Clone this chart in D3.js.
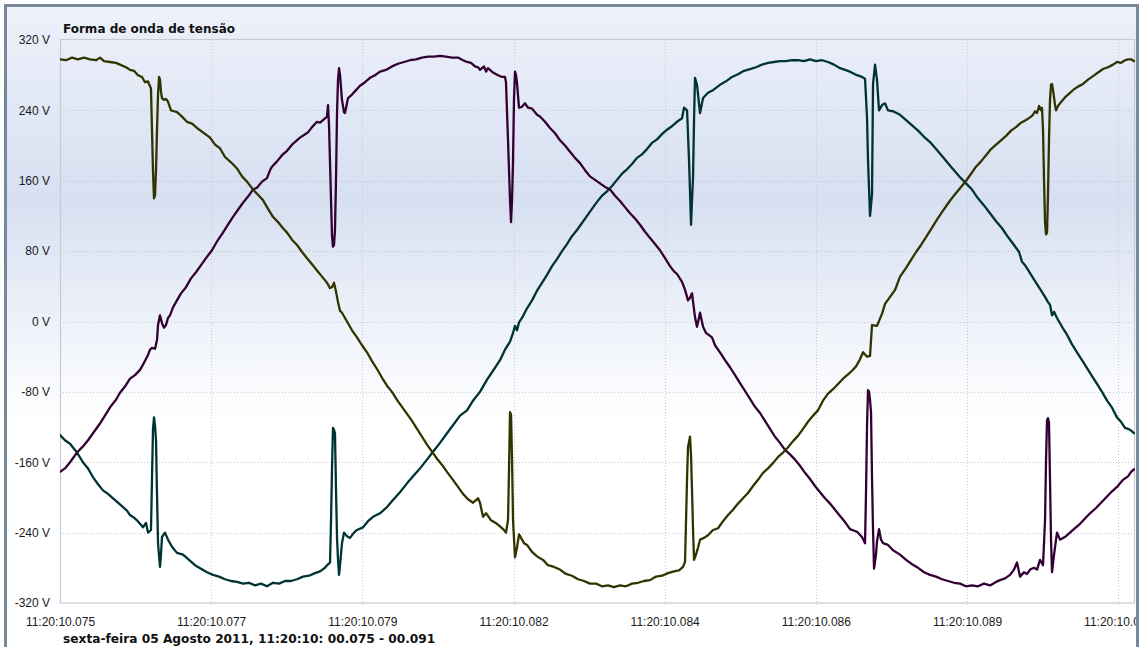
<!DOCTYPE html>
<html><head><meta charset="utf-8">
<script src="https://cdn.jsdelivr.net/npm/d3@7"></script>
<style>
html,body{margin:0;padding:0;background:#fff;}
svg{display:block;}
</style></head>
<body>
<svg id="chart" width="1140" height="647"></svg>
<script>
const chartTitle = "Forma de onda de tensão";
const chartSubtitle = "sexta-feira 05 Agosto 2011, 11:20:10: 00.075 - 00.091";
const timeDomain = [75, 91]; // ms
const voltDomain = [-320, 320];
const yTickValues = [-320, -240, -160, -80, 0, 80, 160, 240, 320];
const xTickValues = [75, 77.25, 79.5, 81.75, 84, 86.25, 88.5, 90.75];
const xTickLabels = ["11:20:10.075","11:20:10.077","11:20:10.079","11:20:10.082","11:20:10.084","11:20:10.086","11:20:10.089","11:20:10.091"];
const seriesColors = ["#003333", "#330033", "#333300"];

// [time ms, volts]
const phaseL1 = [[75.000,298],[75.089,297],[75.179,300],[75.268,298],[75.357,300],[75.447,298],[75.536,297],[75.595,300],[75.655,296],[75.744,295],[75.833,294],[75.893,292],[75.982,289],[76.042,286],[76.101,285],[76.161,280],[76.220,278],[76.265,272],[76.310,273],[76.325,270],[76.354,265],[76.369,218],[76.384,172],[76.399,140],[76.414,143],[76.429,172],[76.444,218],[76.459,258],[76.474,278],[76.488,275],[76.503,261],[76.518,254],[76.548,252],[76.578,253],[76.607,250],[76.652,240],[76.697,239],[76.741,238],[76.801,234],[76.890,227],[76.965,225],[77.039,220],[77.128,215],[77.233,209],[77.307,201],[77.381,197],[77.456,187],[77.545,181],[77.634,174],[77.709,165],[77.783,159],[77.873,150],[77.947,144],[78.021,138],[78.096,128],[78.170,119],[78.245,113],[78.319,106],[78.379,101],[78.453,93],[78.528,87],[78.602,79],[78.677,72],[78.751,65],[78.825,58],[78.900,51],[78.974,44],[79.019,38],[79.048,39],[79.078,44],[79.108,34],[79.138,22],[79.168,12],[79.197,10],[79.242,4],[79.287,-2],[79.346,-10],[79.421,-18],[79.495,-27],[79.569,-35],[79.644,-45],[79.718,-54],[79.793,-64],[79.867,-73],[79.941,-80],[80.016,-89],[80.090,-97],[80.165,-105],[80.239,-113],[80.314,-122],[80.388,-131],[80.462,-140],[80.537,-148],[80.611,-156],[80.686,-163],[80.760,-171],[80.849,-180],[80.924,-188],[80.998,-196],[81.073,-202],[81.147,-206],[81.192,-203],[81.222,-201],[81.251,-206],[81.296,-222],[81.341,-218],[81.370,-221],[81.415,-226],[81.460,-228],[81.504,-230],[81.549,-233],[81.594,-236],[81.638,-240],[81.668,-226],[81.683,-169],[81.698,-103],[81.713,-106],[81.728,-157],[81.743,-226],[81.772,-268],[81.802,-257],[81.832,-242],[81.862,-246],[81.906,-252],[81.951,-254],[82.026,-262],[82.100,-267],[82.189,-271],[82.263,-277],[82.353,-279],[82.442,-282],[82.531,-287],[82.620,-289],[82.710,-293],[82.799,-295],[82.888,-298],[82.978,-298],[83.067,-301],[83.156,-300],[83.245,-302],[83.335,-300],[83.424,-301],[83.514,-298],[83.603,-297],[83.692,-295],[83.782,-294],[83.871,-290],[83.960,-289],[84.049,-286],[84.139,-284],[84.213,-283],[84.273,-279],[84.303,-273],[84.318,-226],[84.333,-178],[84.347,-143],[84.377,-131],[84.392,-152],[84.407,-192],[84.422,-237],[84.437,-271],[84.466,-265],[84.496,-257],[84.526,-248],[84.586,-246],[84.645,-243],[84.719,-237],[84.794,-235],[84.868,-227],[84.943,-220],[85.017,-214],[85.091,-207],[85.166,-201],[85.240,-195],[85.315,-187],[85.389,-180],[85.463,-172],[85.538,-167],[85.612,-161],[85.687,-154],[85.761,-149],[85.836,-143],[85.910,-136],[85.984,-130],[86.059,-122],[86.133,-114],[86.208,-107],[86.282,-101],[86.356,-90],[86.431,-82],[86.505,-77],[86.580,-71],[86.654,-65],[86.729,-60],[86.788,-56],[86.848,-51],[86.907,-43],[86.952,-35],[87.012,-40],[87.056,-39],[87.086,-4],[87.160,-5],[87.235,9],[87.280,20],[87.354,28],[87.429,36],[87.503,51],[87.593,61],[87.667,70],[87.741,79],[87.816,87],[87.890,96],[87.965,105],[88.039,114],[88.114,123],[88.188,131],[88.262,139],[88.337,146],[88.411,153],[88.486,160],[88.560,168],[88.634,176],[88.709,182],[88.783,189],[88.858,196],[88.932,201],[89.006,206],[89.081,211],[89.155,217],[89.229,221],[89.304,226],[89.378,229],[89.438,232],[89.482,235],[89.512,239],[89.542,237],[89.572,245],[89.601,240],[89.616,243],[89.631,218],[89.646,161],[89.661,113],[89.676,99],[89.691,101],[89.705,144],[89.720,206],[89.735,252],[89.750,269],[89.765,270],[89.780,263],[89.810,246],[89.825,240],[89.854,245],[89.884,248],[89.929,252],[89.973,256],[90.033,260],[90.092,264],[90.152,267],[90.226,270],[90.301,275],[90.375,279],[90.450,283],[90.524,287],[90.598,289],[90.673,292],[90.732,295],[90.792,294],[90.851,297],[90.896,298],[90.941,298],[90.985,296]];

const phaseL2 = [[75.000,-171],[75.074,-167],[75.149,-160],[75.253,-149],[75.342,-142],[75.417,-135],[75.491,-127],[75.595,-116],[75.685,-105],[75.759,-96],[75.833,-89],[75.893,-81],[75.967,-74],[76.042,-65],[76.116,-61],[76.191,-55],[76.250,-47],[76.310,-38],[76.340,-32],[76.369,-30],[76.414,-31],[76.444,-21],[76.459,-4],[76.488,7],[76.518,-2],[76.548,-7],[76.578,-4],[76.607,4],[76.637,7],[76.682,16],[76.741,24],[76.801,32],[76.875,39],[76.950,49],[77.024,56],[77.099,64],[77.173,72],[77.262,81],[77.337,91],[77.426,101],[77.500,110],[77.575,119],[77.649,127],[77.724,135],[77.798,142],[77.873,150],[77.932,152],[78.007,159],[78.081,163],[78.126,172],[78.155,176],[78.230,182],[78.304,189],[78.379,194],[78.453,201],[78.513,205],[78.572,209],[78.632,212],[78.691,215],[78.751,221],[78.825,227],[78.870,226],[78.914,229],[78.944,231],[78.974,233],[78.989,246],[79.004,223],[79.019,180],[79.034,138],[79.048,98],[79.063,85],[79.078,87],[79.093,104],[79.108,161],[79.123,237],[79.138,275],[79.153,288],[79.168,280],[79.197,252],[79.227,238],[79.242,237],[79.287,254],[79.346,258],[79.406,263],[79.465,268],[79.540,272],[79.614,277],[79.688,280],[79.763,284],[79.852,286],[79.941,290],[80.031,293],[80.120,295],[80.209,297],[80.299,298],[80.388,300],[80.477,301],[80.567,301],[80.656,302],[80.745,301],[80.835,300],[80.924,300],[80.998,297],[81.058,295],[81.117,294],[81.177,290],[81.222,289],[81.251,286],[81.281,288],[81.311,290],[81.341,284],[81.370,288],[81.400,286],[81.445,283],[81.519,280],[81.579,278],[81.623,278],[81.638,272],[81.668,206],[81.698,138],[81.713,113],[81.728,138],[81.743,184],[81.757,252],[81.772,284],[81.787,280],[81.802,271],[81.832,243],[81.876,244],[81.921,248],[81.966,243],[82.026,242],[82.100,235],[82.144,233],[82.219,227],[82.293,220],[82.368,214],[82.442,206],[82.516,200],[82.591,193],[82.665,186],[82.740,180],[82.814,172],[82.888,165],[82.963,161],[83.037,157],[83.112,153],[83.186,150],[83.261,143],[83.335,137],[83.409,130],[83.484,123],[83.558,117],[83.633,110],[83.707,102],[83.782,95],[83.856,88],[83.930,81],[84.005,72],[84.079,63],[84.139,57],[84.184,54],[84.258,45],[84.303,36],[84.347,24],[84.377,27],[84.407,32],[84.451,5],[84.481,-6],[84.526,10],[84.571,-6],[84.615,-13],[84.704,-18],[84.749,-27],[84.823,-35],[84.898,-44],[84.972,-52],[85.047,-61],[85.121,-70],[85.196,-79],[85.270,-88],[85.344,-97],[85.419,-104],[85.493,-113],[85.568,-122],[85.642,-131],[85.716,-138],[85.791,-146],[85.865,-151],[85.940,-157],[86.014,-164],[86.089,-172],[86.163,-179],[86.237,-187],[86.312,-194],[86.386,-201],[86.461,-207],[86.535,-214],[86.610,-221],[86.684,-228],[86.758,-236],[86.862,-239],[86.937,-245],[86.982,-252],[86.997,-192],[87.012,-118],[87.026,-78],[87.041,-80],[87.056,-89],[87.071,-103],[87.086,-179],[87.101,-237],[87.116,-281],[87.145,-265],[87.160,-250],[87.190,-236],[87.220,-248],[87.250,-252],[87.324,-254],[87.399,-260],[87.503,-265],[87.593,-271],[87.682,-276],[87.771,-280],[87.860,-285],[87.949,-288],[88.039,-290],[88.128,-293],[88.217,-295],[88.306,-297],[88.396,-298],[88.485,-301],[88.574,-300],[88.663,-301],[88.753,-298],[88.842,-300],[88.932,-296],[88.991,-294],[89.066,-292],[89.140,-288],[89.199,-282],[89.244,-274],[89.289,-290],[89.348,-285],[89.393,-287],[89.438,-282],[89.497,-280],[89.542,-282],[89.586,-271],[89.631,-277],[89.661,-226],[89.676,-157],[89.691,-112],[89.705,-110],[89.720,-115],[89.735,-180],[89.750,-248],[89.765,-285],[89.795,-265],[89.839,-240],[89.884,-248],[89.973,-244],[90.078,-237],[90.182,-230],[90.256,-224],[90.331,-218],[90.420,-212],[90.494,-206],[90.584,-199],[90.658,-193],[90.732,-188],[90.822,-180],[90.896,-176],[90.941,-171],[90.985,-168]];

const phaseL3 = [[75.000,-129],[75.074,-135],[75.149,-139],[75.253,-149],[75.342,-160],[75.417,-167],[75.491,-177],[75.566,-185],[75.640,-192],[75.714,-196],[75.789,-201],[75.863,-206],[75.938,-211],[75.997,-215],[76.042,-220],[76.101,-223],[76.146,-226],[76.191,-230],[76.235,-234],[76.280,-229],[76.310,-240],[76.354,-237],[76.369,-180],[76.384,-123],[76.399,-109],[76.414,-118],[76.429,-135],[76.444,-197],[76.459,-252],[76.488,-279],[76.503,-265],[76.518,-245],[76.563,-240],[76.607,-248],[76.667,-256],[76.741,-263],[76.831,-265],[76.920,-271],[77.009,-277],[77.099,-281],[77.188,-285],[77.277,-288],[77.367,-290],[77.456,-293],[77.545,-295],[77.634,-296],[77.724,-298],[77.813,-297],[77.902,-300],[77.992,-298],[78.081,-301],[78.170,-297],[78.260,-298],[78.349,-295],[78.438,-295],[78.528,-293],[78.617,-290],[78.706,-289],[78.795,-286],[78.870,-284],[78.944,-280],[78.989,-276],[79.019,-274],[79.034,-226],[79.048,-169],[79.063,-121],[79.078,-123],[79.093,-127],[79.108,-192],[79.123,-245],[79.138,-271],[79.153,-288],[79.168,-277],[79.197,-252],[79.227,-240],[79.272,-244],[79.316,-246],[79.376,-240],[79.421,-237],[79.510,-234],[79.584,-227],[79.659,-222],[79.763,-218],[79.867,-211],[79.956,-203],[80.060,-194],[80.165,-184],[80.254,-176],[80.358,-167],[80.462,-157],[80.552,-148],[80.656,-138],[80.760,-127],[80.849,-118],[80.954,-107],[81.058,-101],[81.147,-90],[81.251,-80],[81.356,-66],[81.445,-56],[81.549,-44],[81.623,-32],[81.698,-23],[81.743,-13],[81.772,-5],[81.802,-10],[81.832,-1],[81.876,4],[81.951,15],[82.026,24],[82.100,35],[82.174,44],[82.249,53],[82.323,63],[82.397,71],[82.472,80],[82.546,88],[82.620,97],[82.695,104],[82.769,112],[82.844,120],[82.918,128],[82.993,136],[83.067,143],[83.142,148],[83.216,154],[83.290,161],[83.365,168],[83.439,173],[83.514,179],[83.588,186],[83.662,190],[83.737,196],[83.811,203],[83.886,207],[83.960,213],[84.034,218],[84.109,222],[84.183,227],[84.258,231],[84.288,243],[84.333,240],[84.362,184],[84.392,110],[84.407,138],[84.422,164],[84.437,229],[84.451,277],[84.481,269],[84.526,237],[84.571,254],[84.645,260],[84.719,263],[84.823,269],[84.913,273],[85.002,278],[85.091,281],[85.181,285],[85.270,287],[85.359,289],[85.449,292],[85.538,294],[85.627,295],[85.716,296],[85.806,296],[85.895,297],[85.984,297],[86.074,296],[86.163,298],[86.252,296],[86.342,297],[86.431,295],[86.520,292],[86.610,288],[86.684,286],[86.758,284],[86.862,280],[86.937,278],[86.982,276],[87.012,231],[87.026,184],[87.056,120],[87.071,132],[87.086,145],[87.101,270],[87.131,292],[87.160,275],[87.190,240],[87.235,246],[87.280,248],[87.324,240],[87.399,239],[87.503,235],[87.593,229],[87.682,223],[87.771,217],[87.860,210],[87.949,204],[88.039,196],[88.128,188],[88.217,180],[88.306,172],[88.396,164],[88.485,157],[88.574,150],[88.663,140],[88.753,132],[88.842,123],[88.932,114],[89.021,106],[89.110,96],[89.199,87],[89.274,79],[89.318,68],[89.363,64],[89.438,55],[89.512,46],[89.586,37],[89.661,28],[89.705,22],[89.735,19],[89.765,7],[89.795,11],[89.839,4],[89.914,-6],[89.988,-15],[90.063,-26],[90.137,-35],[90.211,-44],[90.286,-53],[90.360,-62],[90.435,-71],[90.509,-80],[90.584,-90],[90.658,-98],[90.732,-109],[90.792,-114],[90.851,-121],[90.896,-122],[90.941,-124],[90.985,-127]];

const seriesList = [phaseL3, phaseL2, phaseL1];

const W = 1140, H = 647;
const plot = {left: 60, right: 1135, top: 40, bottom: 603};

const svg = d3.select("#chart");
const defs = svg.append("defs");
const grad = defs.append("linearGradient").attr("id","bg").attr("x1",0).attr("y1",0).attr("x2",0).attr("y2",1);
grad.append("stop").attr("offset","0%").attr("stop-color","#edf1fa");
grad.append("stop").attr("offset","30%").attr("stop-color","#d7e0f1");
grad.append("stop").attr("offset","64%").attr("stop-color","#ffffff");
grad.append("stop").attr("offset","100%").attr("stop-color","#ffffff");
defs.append("clipPath").attr("id","frameClip").append("rect").attr("x",0).attr("y",0).attr("width",1136).attr("height",H);
defs.append("clipPath").attr("id","plotClip").append("rect")
  .attr("x",plot.left).attr("y",plot.top-3).attr("width",plot.right-plot.left).attr("height",plot.bottom-plot.top+6);

svg.append("rect").attr("x",5).attr("y",5).attr("width",1133).attr("height",H).attr("fill","url(#bg)");

const g = svg.append("g").attr("clip-path","url(#frameClip)");

const x = d3.scaleLinear().domain(timeDomain).range([plot.left, plot.right]);
const y = d3.scaleLinear().domain(voltDomain).range([plot.bottom, plot.top]);

// grid
g.append("g").selectAll("line").data(yTickValues.slice(1,-1)).join("line")
  .attr("x1",plot.left).attr("x2",plot.right)
  .attr("y1",d=>Math.round(y(d))+0.5).attr("y2",d=>Math.round(y(d))+0.5)
  .attr("stroke","#c4c8cc").attr("stroke-dasharray","1,2");
g.append("g").selectAll("line").data(xTickValues.slice(1)).join("line")
  .attr("y1",plot.top).attr("y2",plot.bottom+3)
  .attr("x1",d=>Math.round(x(d))+0.5).attr("x2",d=>Math.round(x(d))+0.5)
  .attr("stroke","#c8cacc").attr("stroke-dasharray","1,2");

// plot border
g.append("rect").attr("x",plot.left+0.5).attr("y",plot.top-0.5)
  .attr("width",plot.right-plot.left-1).attr("height",plot.bottom-plot.top+0.5)
  .attr("fill","none").attr("stroke","#c6cad2").attr("stroke-width",1.2);

// axes
const yAxis = d3.axisLeft(y).tickValues(yTickValues).tickSize(0).tickPadding(10)
  .tickFormat(d => d + " V");
const ya = g.append("g").attr("transform",`translate(${plot.left},0)`).call(yAxis);
ya.select(".domain").remove();
ya.selectAll("text").attr("font-family","'Liberation Sans', Arial, sans-serif").attr("font-size","12px").attr("fill","#1a1a1a");

const xAxis = d3.axisBottom(x).tickValues(xTickValues).tickSize(0).tickPadding(14)
  .tickFormat((d,i) => xTickLabels[i]);
const xa = g.append("g").attr("transform",`translate(0,${plot.bottom})`).call(xAxis);
xa.select(".domain").remove();
xa.selectAll("text").attr("font-family","'Liberation Sans', Arial, sans-serif").attr("font-size","12px").attr("fill","#1a1a1a");

// lines
const line = d3.line().x(d=>x(d[0])).y(d=>y(d[1])).curve(d3.curveLinear);
const lg = g.append("g").attr("clip-path","url(#plotClip)");
lg.selectAll("path").data(seriesList).join("path")
  .attr("d",line).attr("fill","none")
  .attr("stroke",(d,i)=>seriesColors[i]).attr("stroke-width",2.3)
  .attr("stroke-linejoin","round").attr("stroke-linecap","round");

// titles
g.append("text").attr("x",63).attr("y",33).text(chartTitle)
  .attr("font-family","'DejaVu Sans', Verdana, sans-serif").attr("font-weight","bold").attr("font-size","12px").attr("fill","#111");
g.append("text").attr("x",63).attr("y",643).text(chartSubtitle)
  .attr("font-family","'DejaVu Sans', Verdana, sans-serif").attr("font-weight","bold").attr("font-size","12.2px").attr("fill","#111");

// outer frame
svg.append("path").attr("d",`M5.5,${H+5} V5.5 H1137.5 V${H+5}`)
  .attr("fill","none").attr("stroke","#76889a").attr("stroke-width",3);
</script>
</body></html>
